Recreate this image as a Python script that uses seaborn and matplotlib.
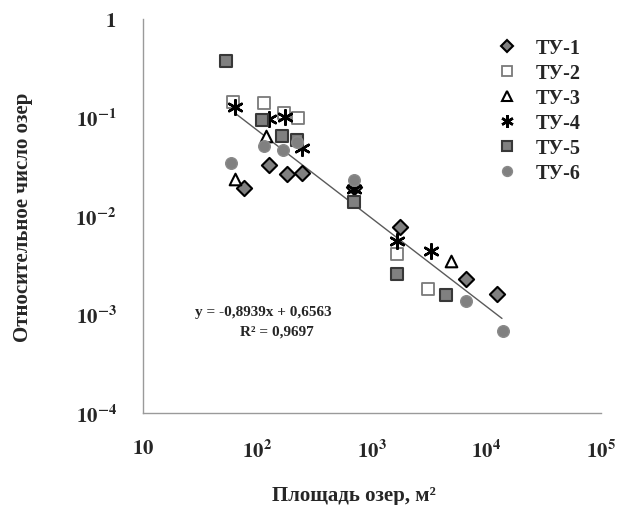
import numpy as np
import pandas as pd
import matplotlib
matplotlib.use("Agg")
import matplotlib.pyplot as plt
from matplotlib.lines import Line2D
import seaborn as sns

sns.set_theme(style="white")
plt.rcParams['font.family'] = ['Liberation Serif', 'DejaVu Serif']
plt.rcParams['mathtext.fontset'] = 'stix'

# ---- data ----
tu1_x = [76, 126, 181, 245, 690, 1760, 6600, 12300]
tu1_y = [0.0192, 0.033, 0.0267, 0.0273, 0.0197, 0.0077, 0.0023, 0.0016]
tu2_x = [61, 114, 170, 226, 1650, 3100]
tu2_y = [0.144, 0.14, 0.111, 0.099, 0.0041, 0.0018]
tu3_x = [63, 119, 4900]
tu3_y = [0.0238, 0.065, 0.0035]
tu4_x = [63, 126, 173, 245, 690, 1650, 3275]
tu4_y = [0.128, 0.097, 0.101, 0.049, 0.0188, 0.0056, 0.0044]
tu5_x = [53, 110, 164, 221, 700, 1650, 4430]
tu5_y = [0.375, 0.094, 0.065, 0.059, 0.0139, 0.00258, 0.00158]
tu6_x = [59, 114, 166, 221, 700, 6600, 13800]
tu6_y = [0.0345, 0.051, 0.047, 0.056, 0.0232, 0.00137, 0.00068]

series_names = ["ТУ-1", "ТУ-2", "ТУ-3", "ТУ-4", "ТУ-5", "ТУ-6"]
trend_slope = -0.8939
trend_intercept = 0.6563
trend_x_range = [63, 13650]
x_ticks = [10, 100, 1000, 10000, 100000]
x_tick_labels = [r"$\mathbf{10}$", r"$\mathbf{10^{2}}$", r"$\mathbf{10^{3}}$",
                 r"$\mathbf{10^{4}}$", r"$\mathbf{10^{5}}$"]
y_ticks = [1e-4, 1e-3, 1e-2, 1e-1, 1]
y_tick_labels = [r"$\mathbf{10^{-4}}$", r"$\mathbf{10^{-3}}$", r"$\mathbf{10^{-2}}$",
                 r"$\mathbf{10^{-1}}$", r"$\mathbf{1}$"]

# ---- styles ----
styles = [
    dict(marker="D", s=60, color="#808080", edgecolor="black", linewidth=1.5),
    dict(marker="s", s=75, color="white", edgecolor="#7a7a7a", linewidth=1.3),
    dict(marker="^", s=70, color="white", edgecolor="black", linewidth=1.5),
    dict(marker=(6, 2, 0), s=110, color="black", edgecolor="black", linewidth=1.8),
    dict(marker="s", s=80, color="#808080", edgecolor="#383838", linewidth=1.5),
    dict(marker="o", s=70, color="#808080", edgecolor="#8a8a8a", linewidth=1.0),
]

W, H = 634, 506
fig = plt.figure(figsize=(W / 100, H / 100), dpi=100)
ax = fig.add_axes([143 / W, 1 - 414 / H, (601 - 143) / W, (414 - 20) / H])

# trendline (log-log linear fit)
tx = np.array(trend_x_range, dtype=float)
ty = 10 ** (trend_slope * np.log10(tx) + trend_intercept)
sns.lineplot(x=tx, y=ty, ax=ax, color="#5a5a5a", linewidth=1.0, zorder=2)

all_x = [tu1_x, tu2_x, tu3_x, tu4_x, tu5_x, tu6_x]
all_y = [tu1_y, tu2_y, tu3_y, tu4_y, tu5_y, tu6_y]
handles = []
for i, (name, xs, ys, st) in enumerate(zip(series_names, all_x, all_y, styles)):
    df = pd.DataFrame({"x": xs, "y": ys})
    sns.scatterplot(data=df, x="x", y="y", ax=ax, zorder=3 + i, legend=False, **st)
    handles.append(Line2D([], [], linestyle="none", marker=st["marker"],
                          markersize=np.sqrt(st["s"]) * 0.85,
                          markerfacecolor=st["color"], markeredgecolor=st["edgecolor"],
                          markeredgewidth=st["linewidth"], label=name))

ax.set_xscale("log")
ax.set_yscale("log")
ax.set_xlim(10, 1e5)
ax.set_ylim(1e-4, 1)
ax.set_xticks(x_ticks)
ax.set_xticklabels(x_tick_labels)
ax.set_yticks(y_ticks)
ax.set_yticklabels(y_tick_labels)
ax.minorticks_off()
ax.tick_params(axis="both", which="major", direction="out", length=6, width=1,
               color="#9a9a9a", labelsize=15, pad=13)
ax.tick_params(axis="y", pad=13)
for side in ["top", "right"]:
    ax.spines[side].set_visible(False)
for side in ["left", "bottom"]:
    ax.spines[side].set_color("#9a9a9a")
    ax.spines[side].set_linewidth(1.0)
ax.set_facecolor("white")
ax.grid(False)

ax.set_xlabel("")
fig.text(354 / W, 1 - 496 / H, "Площадь озер, м²", fontsize=15, fontweight="bold",
         ha="center", va="center")
ax.set_ylabel("Относительное число озер", fontsize=15, fontweight="bold")
ax.yaxis.set_label_coords(-0.24, 0.5)

fig.text(195 / W, 1 - 313 / H, "y = -0,8939x + 0,6563", fontsize=11, fontweight="bold",
         va="center", ha="left")
fig.text(240 / W, 1 - 332 / H, "R² = 0,9697", fontsize=11, fontweight="bold",
         va="center", ha="left")

leg = fig.legend(handles=handles, loc="upper left", bbox_to_anchor=(489 / W, 1 - 31 / H),
                 frameon=False, prop=dict(family="Liberation Serif", weight="bold", size=14.5),
                 handlelength=1.0, handletextpad=0.9, labelspacing=0.25, borderaxespad=0)

fig.savefig("out.png", dpi=100, facecolor="white")
